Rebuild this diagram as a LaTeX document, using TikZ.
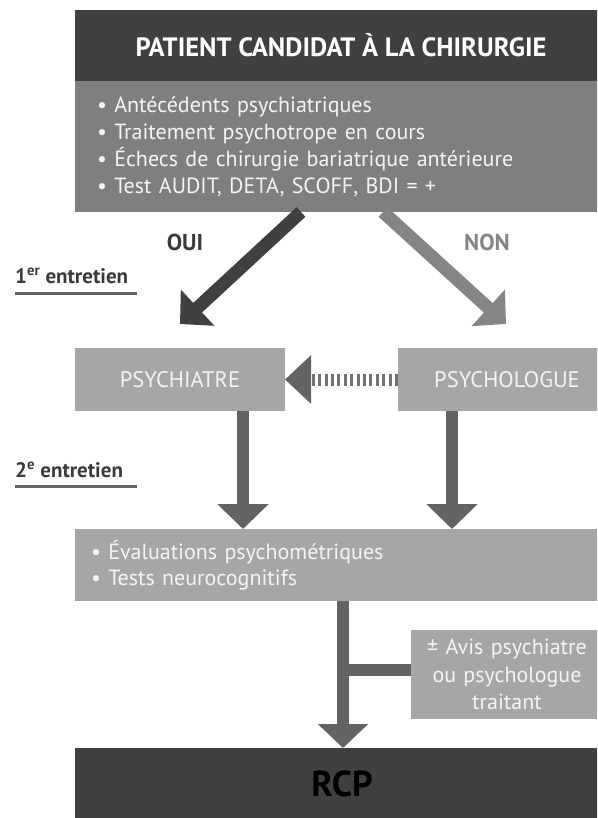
\documentclass[tikz,border=0pt]{standalone}
\usepackage{fontspec}
\setmainfont{PT Sans}
\usetikzlibrary{arrows.meta,calc}
\definecolor{darkbox}{HTML}{404040}
\definecolor{midbox}{HTML}{7F7F7F}
\definecolor{lightbox}{HTML}{A6A6A6}
\definecolor{arrowgray}{HTML}{636363}
\definecolor{nongray}{HTML}{858585}
\definecolor{labelgray}{HTML}{3A3A3A}
\definecolor{boxtext}{HTML}{F4F4F4}
\begin{document}
\begin{tikzpicture}[x=1pt,y=-1pt,
  box/.style={anchor=north west, inner sep=0pt, outer sep=0pt},
  lightnode/.style={box, fill=lightbox, text=boxtext},
  vline/.style={line width=12pt, draw=arrowgray},
  varrow/.style={vline, -{Triangle[length=25pt,width=50pt]}},
  lbl/.style={font=\fontsize{23}{25}\selectfont\bfseries},
  entre/.style={anchor=base west, inner xsep=0pt, inner ysep=0pt, text=labelgray,
                font=\fontsize{21}{23}\selectfont\bfseries}
]
\useasboundingbox (0,0) rectangle (597,818);
\clip (0,0) rectangle (597,818);

% top boxes
\node[box, fill=darkbox, text=white, minimum width=532pt, minimum height=71pt,
      font=\fontsize{26.5}{28}\selectfont\bfseries] (title) at (75,10)
      {PATIENT CANDIDAT À LA CHIRURGIE};
\node[box, fill=midbox, text=boxtext, minimum width=545pt, minimum height=131pt,
      text width=501pt, inner xsep=22pt, align=left,
      font=\fontsize{22}{27}\selectfont] (crit) at (75,81)
      {• Antécédents psychiatriques\\
       • Traitement psychotrope en cours\\
       • Échecs de chirurgie bariatrique antérieure\\
       • Test AUDIT, DETA, SCOFF, BDI = +};

% labels
\node[lbl, text=labelgray] (oui) at (185,242) {OUI};
\node[lbl, text=nongray] (non) at (487,242) {NON};
\node[entre] (e1) at (15,283) {1\textsuperscript{er} entretien};
\node[entre] (e2) at (15,477) {2\textsuperscript{e} entretien};
\draw[line width=3pt, draw=arrowgray] ([yshift=-10pt]e1.base west) -- ++(122,0);
\draw[line width=3pt, draw=arrowgray] ([yshift=-9pt]e2.base west) -- ++(122,0);

% middle boxes
\node[lightnode, minimum width=210pt, minimum height=63pt,
      font=\fontsize{22.5}{24}\selectfont] (psychiatre) at (75,348) {PSYCHIATRE};
\node[lightnode, minimum width=218pt, minimum height=63pt,
      font=\fontsize{22.5}{24}\selectfont] (psychologue) at (398,348) {PSYCHOLOGUE};

\node[lightnode, minimum width=545pt, minimum height=72pt,
      text width=513pt, inner xsep=16pt, align=left,
      font=\fontsize{22}{26}\selectfont] (eval) at (75,529)
      {• Évaluations psychométriques\\
       • Tests neurocognitifs};

\node[lightnode, minimum width=192pt, minimum height=89pt, text width=192pt,
      align=center, font=\fontsize{22}{27.5}\selectfont] (avis) at (411,630)
      {± Avis psychiatre\\ ou psychologue\\ traitant};

\node[box, fill=darkbox, text=black, minimum width=534pt, minimum height=72pt,
      font=\fontsize{36}{40}\selectfont\bfseries] (rcp) at (75,748) {RCP};

% diagonal arrows
\coordinate (ouitip) at (180,324);
\coordinate (nontip) at (506,324);
\draw[line width=13pt, draw=darkbox, -{Triangle[length=24pt,width=48pt]}]
  ([xshift=226pt]crit.south west) -- (ouitip);
\draw[line width=13pt, draw=nongray, -{Triangle[length=24pt,width=48pt]}]
  ([xshift=308pt]crit.south west) -- (nontip);

% dashed arrow
\draw[line width=12pt, draw=arrowgray!90, dash pattern=on 3pt off 3.4pt,
      -{Triangle[length=26pt,width=47pt,color=arrowgray]}]
  (psychologue.west) -- (psychiatre.east);

% vertical arrows
\path ([xshift=168pt]psychiatre.south west) coordinate (p1)
      ([xshift=54pt]psychologue.south west) coordinate (p2)
      ([xshift=268pt]eval.south west) coordinate (p3);
\draw[varrow] (p1) -- (p1 |- eval.north);
\draw[varrow] (p2) -- (p2 |- eval.north);
\draw[vline, -{Triangle[length=24pt,width=49pt]}] (p3) -- (p3 |- rcp.north);
\draw[vline] ([yshift=5pt]avis.west) -- ([yshift=5pt]avis.west -| p3);
\end{tikzpicture}
\end{document}
